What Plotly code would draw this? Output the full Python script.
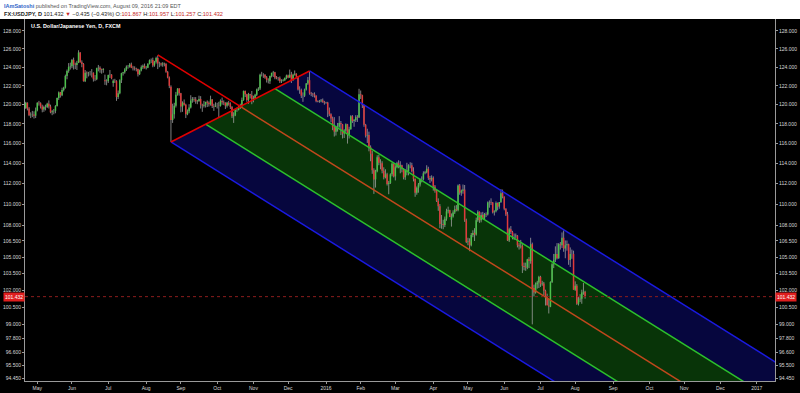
import numpy as np
import pandas as pd
import plotly.graph_objects as go

# ---------------- DATA ----------------
start_date = "2015-04-21"   # first bar; one bar per weekday
opens = [
    119.45,119.65,120.20,119.60,118.90,118.95,118.97,118.85,  # Apr 15
    119.40,120.20,120.15,119.80,119.50,119.75,119.75,120.10,119.80,119.20,119.30,119.35,119.85,120.70,121.30,121.00,121.55,121.80,123.05,123.60,124.05,  # May 15
    124.10,124.80,124.30,124.25,124.50,125.60,124.55,124.35,122.50,123.40,123.35,123.40,123.40,123.40,122.75,122.70,123.90,123.95,123.75,123.70,122.60,122.50,  # Jun 15
    122.50,123.15,123.20,122.30,122.55,122.50,120.80,121.20,122.60,123.35,123.45,123.75,124.05,124.05,124.30,123.95,123.90,123.85,123.80,123.25,123.65,124.00,124.15,  # Jul 15
    123.90,123.95,124.35,124.75,124.80,124.20,124.60,125.00,124.40,124.40,124.30,124.40,124.35,123.50,122.90,121.90,118.40,119.00,119.90,121.05,121.70,  # Aug 15
    121.20,119.80,120.20,120.00,119.00,119.30,119.70,120.45,120.60,120.55,120.35,120.40,120.60,120.00,119.90,120.00,120.30,120.20,120.05,120.55,119.85,119.80,  # Sep 15
    119.90,119.90,119.85,120.40,120.25,120.20,119.90,120.20,120.05,119.75,118.80,118.90,119.45,119.45,119.80,119.90,120.50,121.45,121.10,120.50,121.10,121.00,  # Oct 15
    120.60,120.70,121.05,121.60,121.70,123.20,123.20,123.20,122.90,122.60,122.50,123.05,123.40,123.45,122.90,122.80,122.80,122.50,122.55,122.60,122.85,  # Nov 15
    123.10,122.90,123.20,122.60,123.20,123.30,123.00,121.60,121.55,120.95,120.95,121.60,122.25,122.60,121.20,121.15,121.10,120.95,120.35,120.30,120.35,120.45,120.30,  # Dec 15
    120.20,120.22,119.40,119.00,118.55,117.65,117.20,117.65,117.70,118.10,117.95,117.00,117.30,117.95,116.90,117.45,118.80,118.30,118.40,118.70,118.65,  # Jan 16
    121.10,121.00,119.95,117.90,116.80,116.85,115.65,114.95,113.30,112.40,113.20,114.60,114.05,114.00,113.25,112.60,112.90,111.95,112.05,112.90,113.95,  # Feb 16
    112.70,113.60,114.00,113.70,113.80,113.45,112.60,113.30,113.20,113.80,113.80,113.20,112.45,111.10,111.55,111.90,112.40,112.40,113.00,113.10,113.45,112.55,112.40,  # Mar 16
    112.55,111.70,111.30,110.30,109.80,108.10,108.10,108.00,108.60,109.30,109.40,108.50,108.80,109.20,109.50,109.40,111.80,111.10,111.30,111.40,108.45,  # Apr 16
    106.40,106.45,106.10,107.05,107.25,107.10,108.45,109.25,108.45,108.95,108.60,109.05,109.00,110.15,110.20,110.15,109.20,109.30,110.10,109.75,110.20,111.05,  # May 16
    110.70,109.55,109.00,106.55,107.60,107.35,106.95,106.95,107.00,106.10,106.00,106.05,104.20,104.10,104.05,104.80,104.65,106.20,102.20,101.80,102.55,102.70,  # Jun 16
    103.20,102.55,102.60,101.95,101.50,100.65,100.55,102.75,104.35,104.75,105.30,104.90,106.20,106.10,106.80,105.80,106.10,106.20,104.75,105.30,105.30,  # Jul 16
    102.05,102.40,100.80,101.20,101.25,101.80,101.867,  # Aug 16
]
highs = [
    119.95,120.30,120.25,119.75,119.20,119.35,119.30,119.70,
    120.25,120.40,120.25,120.00,119.90,120.00,120.20,120.45,120.00,119.45,119.55,119.95,120.75,121.40,121.35,121.80,121.90,123.20,123.75,124.45,124.50,
    124.90,125.05,124.50,124.70,125.86,125.65,124.75,124.45,123.70,123.55,123.50,123.60,123.80,123.45,123.15,123.95,124.25,124.10,123.85,123.90,123.20,122.70,
    123.20,123.70,123.25,122.70,122.75,122.60,121.50,122.70,123.40,123.50,123.90,124.20,124.25,124.45,124.50,124.15,124.10,123.95,123.85,123.75,124.20,124.30,124.40,
    124.15,124.45,124.85,124.95,125.05,124.70,125.15,125.30,124.60,124.50,124.55,124.50,124.45,123.60,123.00,122.05,120.10,120.20,121.35,121.75,121.75,
    121.25,120.35,120.55,120.10,119.50,120.05,121.00,120.80,120.80,120.80,120.50,120.95,120.90,120.10,120.40,120.30,120.45,120.35,120.95,120.60,120.10,120.25,
    120.20,120.30,120.55,120.75,120.45,120.25,120.30,120.40,120.25,119.85,119.20,119.50,119.70,119.95,120.10,120.75,121.50,121.50,121.15,121.25,121.15,121.45,
    120.95,121.15,121.70,121.85,123.30,123.50,123.35,123.25,123.05,122.80,123.10,123.40,123.60,123.50,123.05,122.95,123.00,122.70,122.75,122.90,123.20,
    123.20,123.75,123.50,123.30,123.65,123.35,123.05,121.95,121.70,121.30,121.70,122.30,122.95,123.60,121.35,121.25,121.30,121.00,120.45,120.50,120.60,120.65,120.40,
    120.30,120.30,119.70,119.10,118.75,118.70,117.80,118.10,118.80,118.30,118.00,117.45,118.05,118.00,117.70,118.90,118.90,118.50,118.90,118.90,121.68,
    121.50,121.05,120.00,118.00,117.50,117.20,115.80,115.25,113.50,113.35,114.80,114.85,114.40,114.20,113.60,113.40,113.05,112.25,113.00,114.05,114.00,
    113.80,114.15,114.30,114.20,113.85,113.50,113.40,114.05,113.90,114.10,114.05,113.60,112.50,111.70,112.05,112.50,112.70,113.20,113.25,113.80,113.65,112.75,112.80,
    112.70,111.85,111.40,110.55,110.00,108.95,108.50,108.80,109.55,109.75,109.45,109.10,109.40,109.85,109.90,111.90,111.95,111.40,111.90,111.85,108.60,
    106.80,106.75,107.25,107.50,107.70,108.70,109.40,109.30,109.20,109.25,109.15,109.20,110.25,110.35,110.55,110.20,109.40,110.25,110.15,110.20,111.45,111.40,
    110.75,109.60,109.25,107.75,107.90,107.45,107.20,107.20,107.05,106.30,106.60,106.20,104.50,104.50,104.85,105.00,106.80,106.35,102.50,102.70,102.85,103.30,
    103.30,102.85,102.75,102.05,101.70,101.25,102.80,104.45,105.30,106.00,106.30,106.30,106.40,107.30,107.49,106.55,106.55,106.25,105.90,105.70,105.60,
    102.80,102.55,101.40,101.65,102.05,102.65,101.957,
]
lows = [
    119.30,119.55,119.40,118.80,118.60,118.70,118.55,118.60,
    119.30,119.90,119.60,119.20,119.25,119.40,119.65,119.60,119.10,118.90,119.00,119.10,119.80,120.50,120.75,120.90,121.40,121.70,122.70,123.40,123.75,
    123.90,123.75,123.80,123.70,124.45,124.50,124.00,122.45,122.40,122.80,123.00,123.10,122.90,122.45,122.50,122.60,123.55,123.40,123.30,123.40,122.10,122.05,
    122.30,122.85,122.70,121.90,122.30,120.40,120.60,121.10,122.30,123.10,123.30,123.60,123.85,123.95,123.90,123.65,123.65,123.55,123.00,123.15,123.55,123.80,123.85,
    123.75,123.90,124.30,124.45,124.00,124.05,124.40,123.80,124.00,124.10,124.05,124.10,123.40,122.80,121.75,116.15,118.10,118.55,119.70,120.95,120.95,
    119.20,119.25,119.90,118.60,118.90,119.10,119.60,120.20,120.30,120.10,120.05,120.30,119.60,119.25,119.70,119.70,119.75,119.80,119.90,119.65,119.35,119.75,
    119.60,118.70,119.80,120.00,119.95,119.55,119.70,119.90,119.55,118.60,118.10,118.80,119.25,119.40,119.55,119.75,120.40,120.80,120.30,120.10,120.65,120.05,
    120.25,120.60,120.90,121.45,121.55,123.00,122.85,122.75,122.35,122.25,122.20,122.90,122.95,122.70,122.70,122.55,122.30,122.30,122.45,122.50,122.70,
    122.80,122.85,122.30,122.55,123.10,122.80,121.50,121.15,120.70,120.30,120.80,121.50,122.10,121.05,120.90,120.80,120.75,120.25,120.25,120.20,120.25,120.20,120.00,
    120.10,118.70,118.80,118.20,117.35,116.70,116.80,117.20,117.60,116.85,116.50,116.55,117.15,115.98,116.50,117.40,118.10,117.70,118.20,118.20,118.60,
    120.60,119.65,117.70,116.60,116.05,115.20,114.20,112.95,110.98,111.60,113.10,113.80,113.40,113.00,112.40,112.50,111.80,110.95,111.95,112.70,112.60,
    112.30,113.50,113.50,113.00,113.10,112.40,112.35,112.80,112.80,113.50,113.10,112.20,110.70,110.90,111.10,111.70,112.10,112.30,112.90,113.00,112.35,112.05,112.20,
    111.30,111.10,110.20,109.35,107.70,107.65,107.60,107.80,108.40,109.10,108.75,107.85,108.70,109.05,109.30,109.30,110.90,110.80,111.00,108.30,106.30,
    106.10,105.55,106.00,106.85,106.50,107.00,108.30,108.20,108.25,108.55,108.50,108.75,108.90,109.65,109.90,109.10,108.90,109.20,109.40,109.55,110.10,110.55,
    109.40,108.85,106.50,106.40,107.15,106.65,106.60,106.75,105.90,105.70,105.80,103.55,103.80,103.75,103.90,104.00,104.40,99.00,101.45,101.70,102.15,102.20,
    102.30,102.40,101.55,100.65,100.70,99.95,100.50,102.65,104.00,104.55,104.80,104.85,105.70,105.85,105.50,104.90,105.60,104.30,104.10,104.85,102.05,
    101.95,100.70,100.65,100.95,100.80,101.60,101.257,
]
closes = [
    119.65,120.20,119.60,118.90,118.95,118.97,118.85,119.40,
    120.20,120.15,119.80,119.50,119.75,119.75,120.10,119.80,119.20,119.30,119.35,119.85,120.70,121.30,121.00,121.55,121.80,123.05,123.60,124.05,124.10,
    124.80,124.30,124.25,124.50,125.60,124.55,124.35,122.50,123.40,123.35,123.40,123.40,123.40,122.75,122.70,123.90,123.95,123.75,123.70,123.80,122.50,122.50,
    123.15,123.20,122.80,122.55,122.50,120.80,121.20,122.60,123.35,123.45,123.75,124.05,124.05,124.30,123.95,123.90,123.85,123.80,123.25,123.65,124.00,124.15,123.90,
    123.95,124.35,124.75,124.80,124.20,124.60,125.00,124.40,124.40,124.30,124.40,124.35,123.50,122.90,122.00,118.40,119.00,119.90,121.05,121.70,121.20,
    119.80,120.20,120.00,119.00,119.30,119.70,120.45,120.60,120.55,120.35,120.40,120.60,120.00,119.90,120.00,120.30,120.20,120.05,120.55,119.85,119.80,119.90,
    119.90,119.85,120.40,120.25,120.20,119.90,120.20,120.05,119.75,118.80,118.90,119.45,119.45,119.80,119.90,120.50,121.45,121.10,120.50,121.10,121.00,120.60,
    120.70,121.05,121.60,121.70,123.20,123.20,123.20,122.90,122.60,122.60,123.05,123.40,123.45,122.90,122.80,122.80,122.50,122.55,122.60,122.85,123.10,
    122.90,123.20,122.60,123.20,123.30,123.00,121.60,121.55,120.95,120.95,121.60,122.25,122.60,121.20,121.15,121.10,120.95,120.35,120.30,120.35,120.45,120.30,120.20,
    120.22,119.40,119.00,118.55,117.65,117.20,117.65,117.70,118.10,117.95,117.00,117.30,117.95,116.90,117.45,118.80,118.30,118.40,118.70,118.65,121.10,
    121.00,119.95,117.90,116.80,116.85,115.65,114.95,113.30,112.40,113.20,114.60,114.05,114.00,113.25,112.60,112.90,111.95,112.05,112.90,113.95,112.70,
    113.60,114.00,113.70,113.80,113.45,112.60,113.30,113.20,113.80,113.80,113.20,112.45,111.10,111.55,111.90,112.40,112.40,113.00,113.10,113.45,112.55,112.40,112.55,
    111.70,111.30,110.30,109.80,108.10,108.10,108.00,108.60,109.30,109.40,108.75,108.80,109.20,109.50,109.40,111.80,111.10,111.30,111.40,108.45,106.40,
    106.45,106.10,107.05,107.25,107.10,108.45,109.25,108.45,108.95,108.60,109.05,109.00,110.15,110.20,110.15,109.20,109.30,110.10,109.75,110.20,111.05,110.70,
    109.55,109.00,106.55,107.60,107.35,106.95,106.95,107.00,106.10,106.00,106.05,104.20,104.10,104.05,104.80,104.65,106.20,102.20,101.80,102.55,102.70,103.20,
    102.55,102.60,101.95,101.50,100.65,100.55,102.75,104.35,104.75,105.30,104.90,106.20,106.10,106.80,105.80,106.10,106.20,104.75,105.30,105.30,102.05,
    102.40,100.80,101.20,101.25,101.80,101.87,101.432,
]

y_tick_values = [128, 126, 124, 122, 120, 118, 116, 114, 112, 110, 108, 106.5, 105,
                 103.5, 102, 100.5, 99, 97.8, 96.6, 95.5, 94.45]
x_tick_labels = ["May", "Jun", "Jul", "Aug", "Sep", "Oct", "Nov", "Dec", "2016", "Feb",
                 "Mar", "Apr", "May", "Jun", "Jul", "Aug", "Sep", "Oct", "Nov", "Dec", "2017"]
x_tick_first_month = "2015-05-01"

# pitchfork anchors (A = pivot, B, C)
pf_dates = ["2015-08-12", "2015-08-24", "2015-12-18"]
pf_prices = [125.35, 116.15, 123.60]

last_price = 101.432

# ---------------- helpers ----------------
origin = np.datetime64("2015-04-20")


def bidx(d):
    return int(np.busday_count(origin, np.datetime64(pd.Timestamp(d).date(), "D")))


n = min(len(opens), len(highs), len(lows), len(closes))
dates = pd.bdate_range(start_date, periods=n)
xi = [bidx(d) for d in dates]

months = pd.date_range(x_tick_first_month, periods=len(x_tick_labels), freq="MS")
tick_x = []
for m in months:
    d = np.busday_offset(np.datetime64(m.date(), "D"), 0, roll="forward")
    tick_x.append(int(np.busday_count(origin, d)))

X0, X1 = 1.545, 456.1
Y0, Y1 = np.log10(94.21), np.log10(129.35)

fig = go.Figure()

# ---------------- pitchfork ----------------
ax_, bx_, cx_ = [bidx(d) for d in pf_dates]
ay_, by_, cy_ = np.log10(pf_prices)
mx_, my_ = (bx_ + cx_) / 2, (by_ + cy_) / 2
dx_, dy_ = mx_ - ax_, my_ - ay_
X_END = 490


def ray(t):
    px_ = bx_ + t * (cx_ - bx_)
    py_ = by_ + t * (cy_ - by_)
    s = (X_END - px_) / dx_
    return (px_, py_), (X_END, py_ + s * dy_)


navy_fill = "rgb(6,6,62)"
green_fill = "rgb(8,52,8)"
for (t0, t1, col) in [(0.0, 0.25, navy_fill), (0.25, 0.75, green_fill), (0.75, 1.0, navy_fill)]:
    (s0, e0), (s1, e1) = ray(t0), ray(t1)
    xs = [s0[0], e0[0], e1[0], s1[0], s0[0]]
    ys = [10 ** s0[1], 10 ** e0[1], 10 ** e1[1], 10 ** s1[1], 10 ** s0[1]]
    fig.add_trace(go.Scatter(x=xs, y=ys, fill="toself", fillcolor=col, mode="none",
                             hoverinfo="skip", showlegend=False))

# ---------------- candles ----------------
wx, wy = [], []
ux, uy, dxs, dys = [], [], [], []
for i in range(n):
    wx += [xi[i], xi[i], None]
    wy += [lows[i], highs[i], None]
    if closes[i] >= opens[i]:
        ux += [xi[i], xi[i], None]
        uy += [opens[i], closes[i], None]
    else:
        dxs += [xi[i], xi[i], None]
        dys += [opens[i], closes[i], None]

fig.add_trace(go.Scatter(x=wx, y=wy, mode="lines", line=dict(color="#a0a0a0", width=0.8),
                         hoverinfo="skip", showlegend=False))
fig.add_trace(go.Scatter(x=ux, y=uy, mode="lines", line=dict(color="#4cc24c", width=1.5),
                         hoverinfo="skip", showlegend=False))
fig.add_trace(go.Scatter(x=dxs, y=dys, mode="lines", line=dict(color="#e03a3a", width=1.5),
                         hoverinfo="skip", showlegend=False))

# pitchfork lines
line_styles = {0.0: ("#1a1ae0", 1.5), 0.25: ("#2cc02c", 1.5), 0.5: ("#c0481c", 1.5),
               0.75: ("#2cc02c", 1.5), 1.0: ("#1a1ae0", 1.5)}
for t, (col, w) in line_styles.items():
    s, e = ray(t)
    fig.add_trace(go.Scatter(x=[s[0], e[0]], y=[10 ** s[1], 10 ** e[1]], mode="lines",
                             line=dict(color=col, width=w), hoverinfo="skip", showlegend=False))
fig.add_trace(go.Scatter(x=[ax_, mx_], y=[10 ** ay_, 10 ** my_], mode="lines",
                         line=dict(color="#e00000", width=1.6), hoverinfo="skip", showlegend=False))
fig.add_trace(go.Scatter(x=[bx_, cx_], y=[10 ** by_, 10 ** cy_], mode="lines",
                         line=dict(color="#e00000", width=1.6), hoverinfo="skip", showlegend=False))

# last price line
fig.add_trace(go.Scatter(x=[X0, X1], y=[last_price, last_price], mode="lines",
                         line=dict(color="#8c1c1c", width=1, dash="dot"),
                         hoverinfo="skip", showlegend=False))
# dummy for right axis
fig.add_trace(go.Scatter(x=[xi[0]], y=[closes[0]], yaxis="y2", mode="markers",
                         marker=dict(opacity=0), hoverinfo="skip", showlegend=False))

tick_text = ["%.3f" % v for v in y_tick_values]
FONT = "Liberation Sans, Arial, sans-serif"
axis_common = dict(type="log", range=[Y0, Y1], tickvals=y_tick_values, ticktext=tick_text,
                   showgrid=False, zeroline=False, showline=True, linecolor="#9a9a9a",
                   linewidth=1, ticks="outside", ticklen=2, tickcolor="#9a9a9a",
                   automargin=False,
                   tickfont=dict(size=5, color="#d8d8d8", family=FONT))

fig.update_layout(
    width=800, height=393,
    margin=dict(l=25, r=25, t=19, b=12, pad=0, autoexpand=False),
    paper_bgcolor="black", plot_bgcolor="black",
    xaxis=dict(range=[X0, X1], tickvals=tick_x, ticktext=x_tick_labels, showgrid=False,
               zeroline=False, showline=True, linecolor="#9a9a9a", linewidth=1,
               ticks="outside", ticklen=2, tickcolor="#9a9a9a", automargin=False,
               tickfont=dict(size=5, color="#d8d8d8", family=FONT)),
    yaxis=dict(side="left", **axis_common),
    yaxis2=dict(side="right", overlaying="y", **axis_common),
    showlegend=False,
)

PB, PH = 381.0, 362.0  # plot bottom pixel, plot height


def py(pix):
    return (PB - pix) / PH


def px(pix):
    return (pix - 25.0) / 750.0


fig.add_shape(type="rect", xref="paper", yref="paper", x0=px(-5), x1=px(805),
              y0=py(19), y1=py(-2), fillcolor="white", line=dict(width=0), layer="above")

red = "#c62828"
line1 = ("<b><span style='color:#2d63c8'>IAmSatoshi</span></b>"
         "<span style='color:#555555'> published on TradingView.com, August 09, 2016 21:09 EDT</span>")
line2 = ("<b>FX:USDJPY, D</b> 101.432 <span style='color:%s'>▼</span> −0.435 (−0.43%%) "
         "O:<span style='color:%s'>101.867</span> H:<span style='color:%s'>101.957</span> "
         "L:<span style='color:%s'>101.257</span> C:<span style='color:%s'>101.432</span>"
         % (red, red, red, red, red))
fig.add_annotation(text=line1, xref="paper", yref="paper", x=px(2), y=py(5.5),
                   xanchor="left", yanchor="middle", showarrow=False,
                   font=dict(size=5.5, color="#333333", family=FONT))
fig.add_annotation(text=line2, xref="paper", yref="paper", x=px(2), y=py(13.5),
                   xanchor="left", yanchor="middle", showarrow=False,
                   font=dict(size=5.6, color="#222222", family=FONT))
fig.add_annotation(text="<b>U.S. Dollar/Japanese Yen, D, FXCM</b>", xref="paper", yref="paper",
                   x=px(29), y=py(26), xanchor="left", yanchor="middle",
                   showarrow=False, font=dict(size=5.4, color="white", family=FONT))

for xpos, anchor in [(0, "right"), (1, "left")]:
    fig.add_annotation(text="101.432", xref="paper", yref="y", x=xpos, y=np.log10(last_price),
                       xanchor=anchor, yanchor="middle", showarrow=False, bgcolor="#e01e1e",
                       borderpad=1, font=dict(size=5, color="white", family=FONT))

fig.write_html("out.html")
